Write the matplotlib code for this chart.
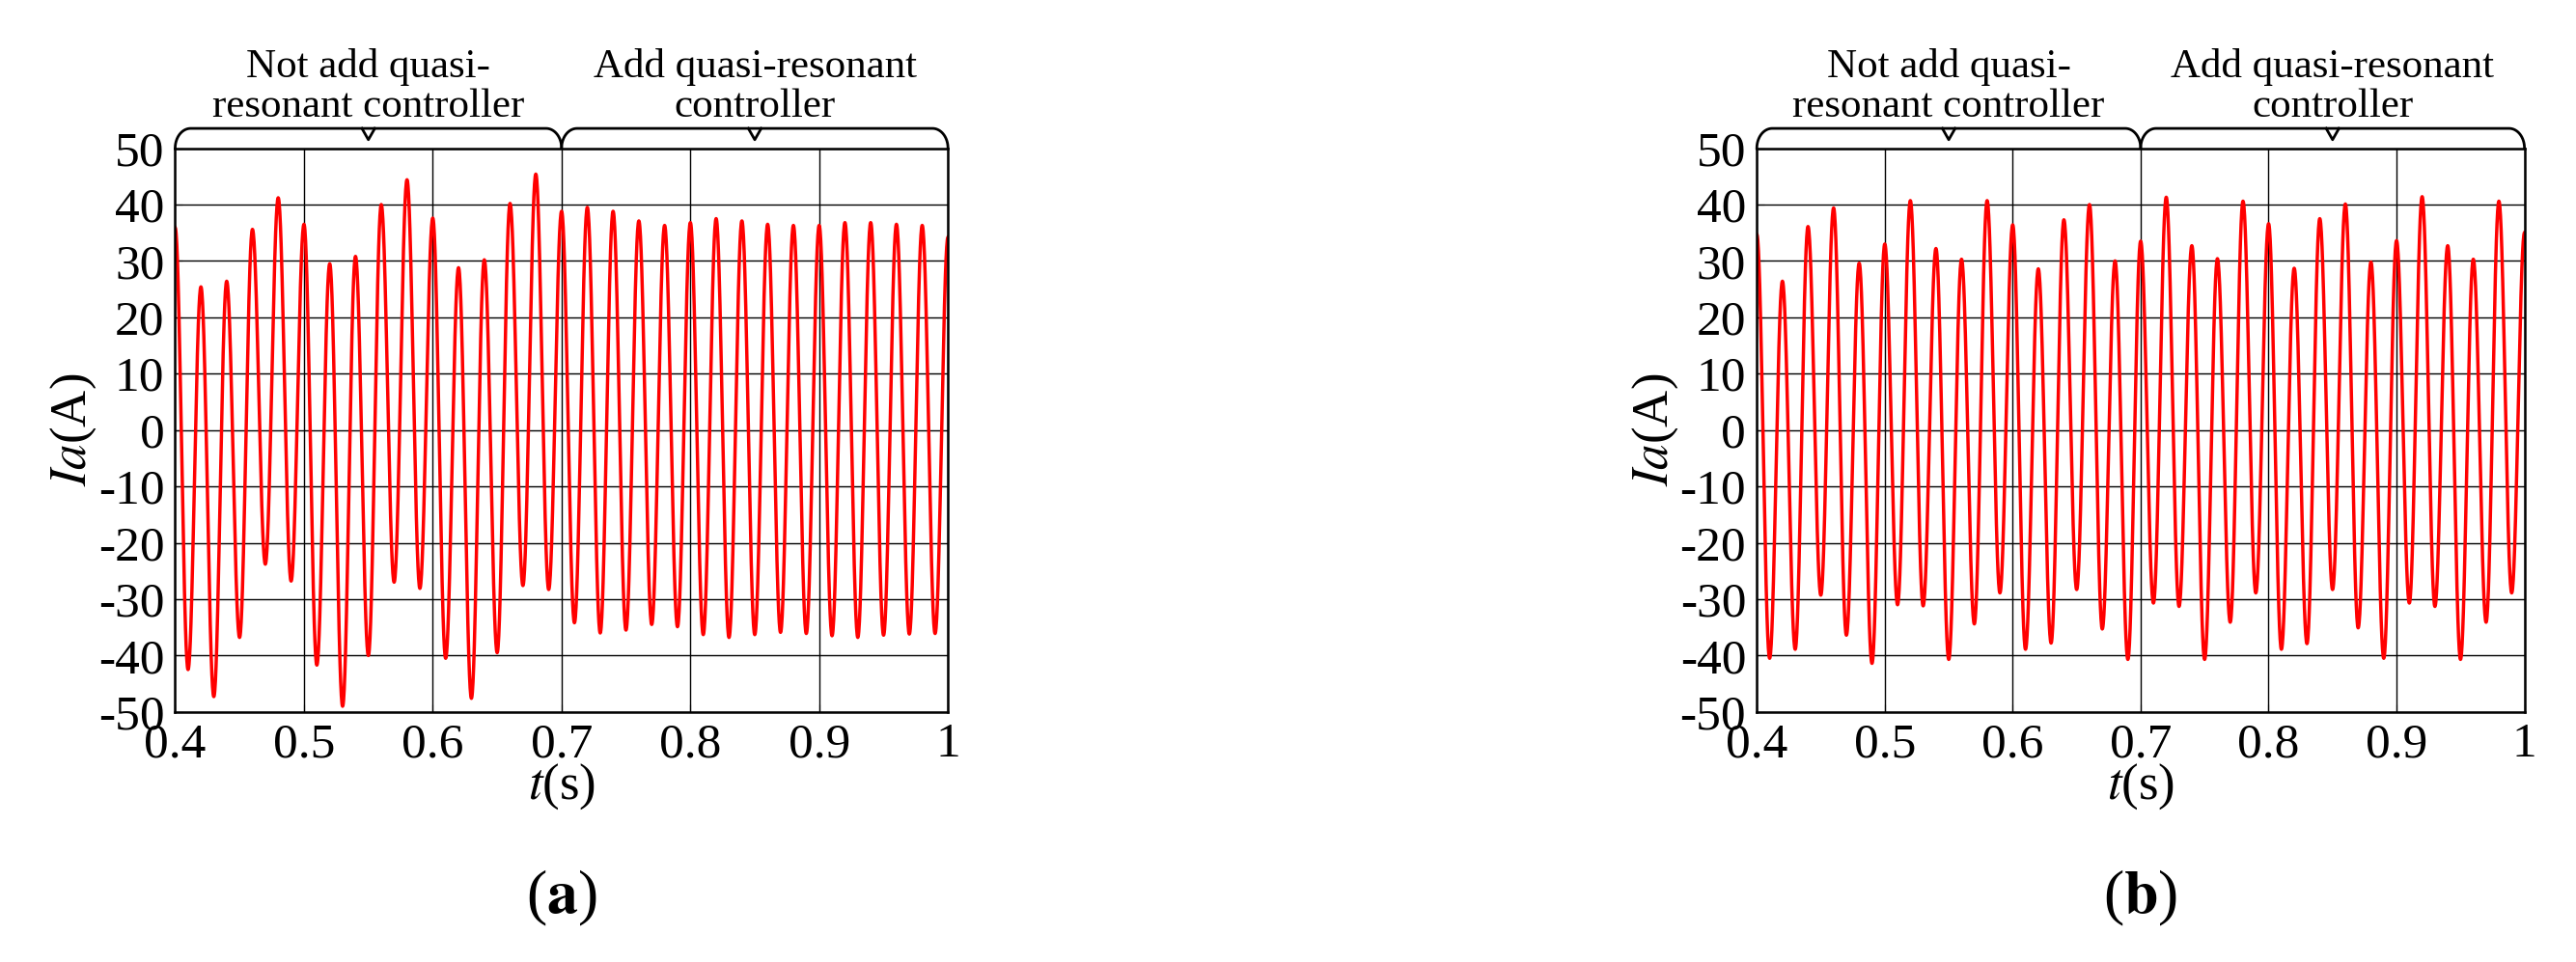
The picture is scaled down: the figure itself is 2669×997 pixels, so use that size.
import numpy as np
import matplotlib
matplotlib.use("Agg")
import matplotlib.pyplot as plt

# extreme values (peak/trough alternating), every half period (0.01 s) from t=0.4
extremes_a = [35.9, -42.5, 25.4, -47.3, 26.4, -36.8, 35.6, -23.8, 41.2, -26.8,
              36.5, -41.7, 29.5, -49.0, 30.8, -40.0, 40.0, -27.0, 44.4, -28.1,
              37.6, -40.5, 28.8, -47.6, 30.2, -39.5, 40.2, -27.6, 45.4, -28.3,
              38.8, -34.2, 39.5, -36.0, 38.8, -35.5, 37.1, -34.5, 36.3, -34.9,
              36.8, -36.3, 37.5, -36.8, 37.1, -36.3, 36.5, -35.9, 36.3, -36.1,
              36.3, -36.5, 36.8, -36.8, 36.8, -36.4, 36.5, -36.2, 36.3, -36.1, 34.2]
extremes_b = [34.7, -40.5, 26.4, -38.9, 36.1, -29.3, 39.4, -36.4, 29.6, -41.4,
              33.0, -31.0, 40.7, -31.2, 32.2, -40.7, 30.3, -34.4, 40.7, -28.9,
              36.4, -38.9, 28.6, -37.8, 37.3, -28.3, 40.0, -35.3, 30.0, -40.7,
              33.5, -30.7, 41.3, -31.3, 32.7, -40.7, 30.4, -34.1, 40.6, -28.9,
              36.6, -38.9, 28.7, -37.9, 37.5, -28.3, 40.1, -35.1, 29.8, -40.5,
              33.6, -30.7, 41.4, -31.3, 32.7, -40.7, 30.3, -34.1, 40.6, -28.9, 35.0]
t_start, half_period = 0.4, 0.01
xticks = [0.4, 0.5, 0.6, 0.7, 0.8, 0.9, 1.0]
xticklabels = ["0.4", "0.5", "0.6", "0.7", "0.8", "0.9", "1"]
yticks = list(range(-50, 51, 10))
yticklabels = [str(v) for v in yticks]
label_left = "Not add quasi-\nresonant controller"
label_right = "Add quasi-resonant\ncontroller"

plt.rcParams['font.family'] = ['Liberation Serif', 'DejaVu Serif']
plt.rcParams['mathtext.fontset'] = 'stix'
plt.rcParams['axes.unicode_minus'] = False


def waveform(ext):
    ts, ys = [], []
    for k in range(len(ext) - 1):
        s = np.linspace(0, 1, 40, endpoint=False)
        a, b = ext[k], ext[k + 1]
        ys.append(a + (b - a) * (1 - np.cos(np.pi * s)) / 2)
        ts.append(t_start + (k + s) * half_period)
    ts.append([t_start + (len(ext) - 1) * half_period])
    ys.append([ext[-1]])
    return np.concatenate(ts), np.concatenate(ys)


def brace(ax, x0, x1):
    tr = ax.get_xaxis_transform()
    w = (x1 - x0)
    r = 0.012
    xs = np.concatenate([
        x0 + r * (1 - np.cos(np.linspace(0, np.pi / 2, 20))),
        [x1 - r],
        x1 - r * (1 - np.cos(np.linspace(np.pi / 2, 0, 20)))])
    ys = np.concatenate([
        1.0 + 0.035 * np.sin(np.linspace(0, np.pi / 2, 20)),
        [1.035],
        1.0 + 0.035 * np.sin(np.linspace(np.pi / 2, 0, 20))])
    ax.plot(xs, ys, color='black', lw=2, transform=tr, clip_on=False)
    xm = x0 + w / 2
    ax.plot([xm - 0.005, xm, xm + 0.005], [1.035, 1.015, 1.035], color='black',
            lw=2, transform=tr, clip_on=False)


fig = plt.figure(figsize=(26.69, 9.97), dpi=100)
boxes = [(0.068, 0.260, 0.300, 0.586), (0.682, 0.260, 0.298, 0.586)]
for ext, box, tag in [(extremes_a, boxes[0], 'a'), (extremes_b, boxes[1], 'b')]:
    ax = fig.add_axes(box)
    t, y = waveform(ext)
    ax.plot(t, y, color='red', lw=2.5)
    ax.set_xlim(0.4, 1.0)
    ax.set_ylim(-50, 50)
    ax.set_xticks(xticks)
    ax.set_xticklabels(xticklabels)
    ax.set_yticks(yticks)
    ax.set_yticklabels(yticklabels)
    ax.grid(True, color='black', lw=1.0)
    ax.tick_params(direction='in', labelsize=37, length=6, pad=8)
    for sp in ax.spines.values():
        sp.set_linewidth(1.8)
    ax.set_ylabel(r'$\mathit{Ia}$(A)', fontsize=38, labelpad=0)
    ax.set_xlabel(r'$\mathit{t}$(s)', fontsize=38, labelpad=-4)
    brace(ax, 0.4, 0.7)
    brace(ax, 0.7, 1.0)
    tr = ax.get_xaxis_transform()
    ax.text(0.55, 1.04, label_left, transform=tr, ha='center', va='bottom',
            fontsize=31, linespacing=1.1)
    ax.text(0.85, 1.04, label_right, transform=tr, ha='center', va='bottom',
            fontsize=31, linespacing=1.1)
    ax.text(0.5, -0.33, '(' + r'$\mathbf{' + tag + '}$' + ')', transform=ax.transAxes,
            ha='center', va='center', fontsize=46)

fig.savefig('out.png', dpi=100)
